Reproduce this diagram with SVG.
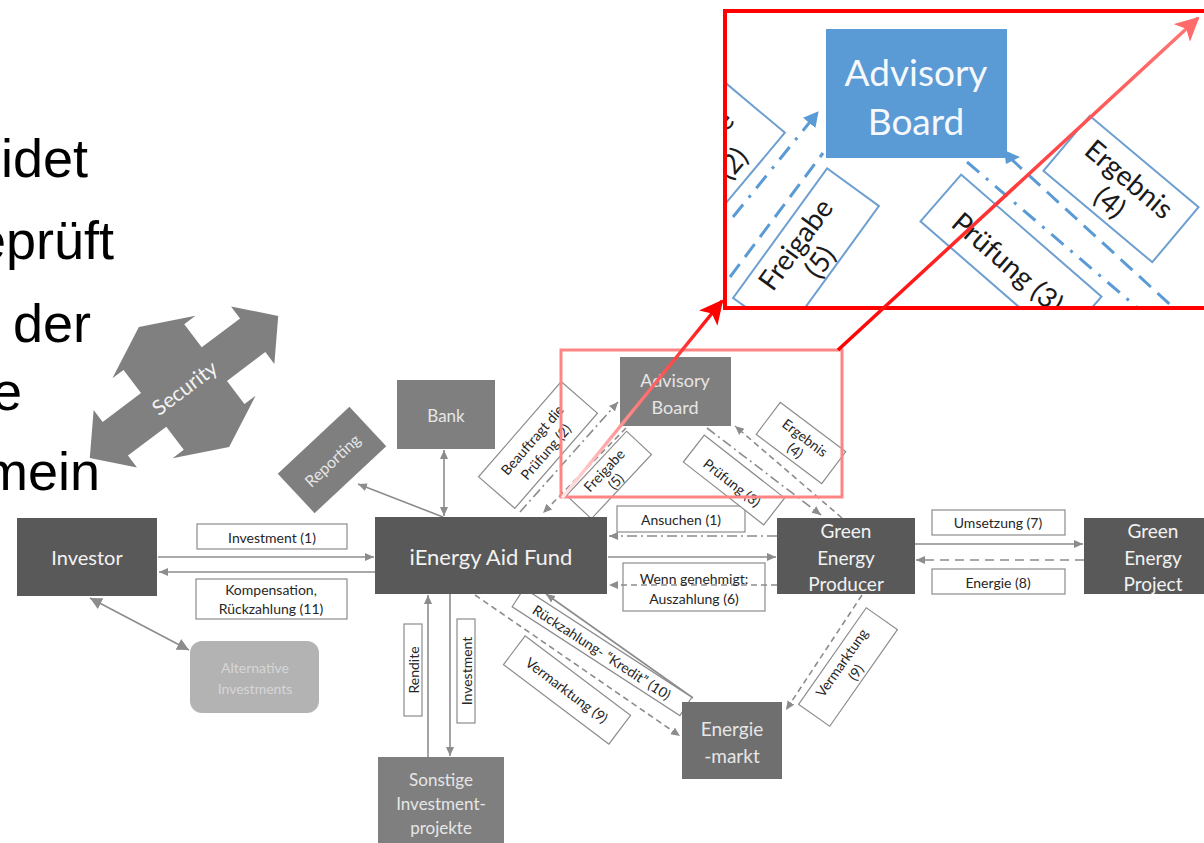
<svg xmlns="http://www.w3.org/2000/svg" width="1204" height="843" viewBox="0 0 1204 843">
<style>
.big{font-family:"Liberation Sans",Arial,sans-serif;font-size:54px;fill:#000}
.nd{fill:#595959}
.nm{fill:#7f7f7f}
.nt{font-family:Lato,"Open Sans",sans-serif;fill:#f2f2f2;text-anchor:middle;dominant-baseline:central}
.lb{fill:#fff;stroke:#8c8c8c;stroke-width:1.2}
.lt{font-family:Lato,"Open Sans",sans-serif;font-size:14px;fill:#262626;text-anchor:middle;dominant-baseline:central}
.c{stroke:#8c8c8c;stroke-width:1.6;fill:none}
.dd{stroke-dasharray:10 4 2 4}
.ds{stroke-dasharray:6 4}
.bl{fill:#fff;stroke:#6d9fd0;stroke-width:2}
.bt{font-family:Lato,"Open Sans",sans-serif;font-size:28px;fill:#1a1a1a;text-anchor:middle;dominant-baseline:central}
.bc{stroke:#5b9bd5;stroke-width:3;fill:none}
</style>
<defs>
<marker id="ga" markerUnits="userSpaceOnUse" markerWidth="10" markerHeight="10" refX="9" refY="5" orient="auto-start-reverse"><path d="M0,1 L9,5 L0,9 z" fill="#8c8c8c"/></marker>
<marker id="gb" markerUnits="userSpaceOnUse" markerWidth="14" markerHeight="14" refX="12" refY="7" orient="auto-start-reverse"><path d="M0,1 L12,7 L0,13 z" fill="#8c8c8c"/></marker>
<marker id="ba" markerUnits="userSpaceOnUse" markerWidth="18" markerHeight="18" refX="14" refY="9" orient="auto"><path d="M0,1 L15,9 L0,17 z" fill="#5b9bd5"/></marker>
<marker id="ra" markerUnits="userSpaceOnUse" markerWidth="26" markerHeight="26" refX="22" refY="12" orient="auto"><path d="M0,0 L24,12 L0,24 L6,12 z" fill="#ff0000"/></marker>
<marker id="rb" markerUnits="userSpaceOnUse" markerWidth="26" markerHeight="26" refX="22" refY="12" orient="auto"><path d="M0,0 L24,12 L0,24 L6,12 z" fill="#ff6a6a"/></marker>
<linearGradient id="g1" gradientUnits="userSpaceOnUse" x1="562" y1="498" x2="722" y2="300"><stop offset="0" stop-color="#ffe8e8"/><stop offset="0.45" stop-color="#ff8080"/><stop offset="1" stop-color="#ff0000"/></linearGradient>
<linearGradient id="g2" gradientUnits="userSpaceOnUse" x1="838" y1="350" x2="1200" y2="16"><stop offset="0" stop-color="#ff0000"/><stop offset="1" stop-color="#ff7a7a"/></linearGradient>
<clipPath id="cb"><rect x="727" y="13" width="477" height="294"/></clipPath>
</defs>
<rect width="1204" height="843" fill="#fff"/>

<g id="slide-text">
<text class="big" x="1" y="177">idet</text>
<text class="big" x="-24" y="259">eprüft</text>
<text class="big" x="13" y="342">der</text>
<text class="big" x="-8" y="410">e</text>
<text class="big" x="-17" y="490">mein</text>
</g>

<g id="security">
<polygon transform="translate(184,387) rotate(-37)" fill="#808080" points="118,0 86,-36 86,-21 38,-21 38,-50 52,-50 0,-75 -52,-50 -38,-50 -38,-21 -86,-21 -86,-36 -118,0 -86,36 -86,21 -38,21 -38,50 -52,50 0,75 52,50 38,50 38,21 86,21 86,36"/>
<text class="nt" font-size="21" transform="translate(184,387) rotate(-37)">Security</text>
</g>

<g id="connectors">
<line class="c" x1="158" y1="557" x2="374" y2="557" marker-end="url(#ga)"/>
<line class="c" x1="375" y1="572" x2="159" y2="572" marker-end="url(#ga)"/>
<line class="c" x1="90" y1="598" x2="189" y2="650" stroke-width="3" marker-start="url(#gb)" marker-end="url(#gb)"/>
<line class="c" x1="443" y1="517" x2="358" y2="484" marker-end="url(#ga)"/>
<line class="c" x1="444" y1="450" x2="444" y2="516" marker-start="url(#ga)" marker-end="url(#ga)"/>
<line class="c dd" x1="777" y1="536" x2="609" y2="536" marker-end="url(#ga)"/>
<line class="c" x1="608" y1="557" x2="776" y2="557" marker-end="url(#ga)"/>
<line class="c ds" x1="777" y1="585" x2="609" y2="585" marker-end="url(#ga)"/>
<line class="c" x1="915" y1="544" x2="1083" y2="544" marker-end="url(#ga)"/>
<line class="c" x1="1084" y1="560" x2="916" y2="560" stroke-width="2" stroke-dasharray="9 6" marker-end="url(#ga)"/>
<line class="c dd" x1="520" y1="512" x2="618" y2="402" marker-end="url(#ga)"/>
<line class="c ds" x1="626" y1="428" x2="543" y2="513" marker-end="url(#ga)"/>
<line class="c dd" x1="707" y1="428" x2="821" y2="515" marker-end="url(#ga)"/>
<line class="c ds" x1="842" y1="518" x2="735" y2="426" marker-end="url(#ga)"/>
<line class="c ds" x1="475" y1="595" x2="680" y2="736" marker-end="url(#ga)"/>
<line class="c" x1="693" y1="698" x2="546" y2="594" marker-end="url(#ga)"/>
<line class="c ds" x1="862" y1="595" x2="786" y2="710" marker-end="url(#ga)"/>
<line class="c" x1="428" y1="757" x2="428" y2="595" marker-end="url(#ga)"/>
<line class="c" x1="450" y1="594" x2="450" y2="756" marker-end="url(#ga)"/>
</g>

<g id="labels">
<rect class="lb" x="197" y="524" width="150" height="25"/><text class="lt" x="272" y="537">Investment (1)</text>
<rect class="lb" x="196" y="579" width="151" height="40"/><text class="lt" x="271" y="589">Kompensation,</text><text class="lt" x="271" y="608">Rückzahlung (11)</text>
<rect class="lb" x="617" y="506" width="128" height="26"/><text class="lt" x="681" y="519">Ansuchen (1)</text>
<rect class="lb" x="623" y="563" width="142" height="48" style="fill:none"/><text class="lt" x="694" y="578">Wenn genehmigt:</text><text class="lt" x="694" y="598">Auszahlung (6)</text>
<rect class="lb" x="932" y="510" width="133" height="25"/><text class="lt" x="998" y="522">Umsetzung (7)</text>
<rect class="lb" x="932" y="569" width="133" height="25"/><text class="lt" x="998" y="582">Energie (8)</text>
<g transform="translate(413,670) rotate(-90)"><rect class="lb" x="-46" y="-9" width="92" height="18"/><text class="lt" font-size="13">Rendite</text></g>
<g transform="translate(466,671) rotate(-90)"><rect class="lb" x="-52" y="-9" width="104" height="18"/><text class="lt" font-size="13">Investment</text></g>
<g transform="translate(538,445) rotate(-49)"><rect class="lb" x="-63" y="-24" width="126" height="48"/><text class="lt" font-size="13" y="-8">Beauftragt  die</text><text class="lt" font-size="13" y="10">Prüfung (2)</text></g>
<g transform="translate(609,475) rotate(-47)"><rect class="lb" x="-44" y="-17" width="88" height="34"/><text class="lt" font-size="13" y="-7">Freigabe</text><text class="lt" font-size="13" y="9">(5)</text></g>
<g transform="translate(734,480) rotate(38)"><rect class="lb" x="-51" y="-17" width="102" height="34"/><text class="lt" font-size="13" y="3">Prüfung (3)</text></g>
<g transform="translate(801,443) rotate(37)"><rect class="lb" x="-41" y="-20" width="82" height="40"/><text class="lt" font-size="13" y="-7">Ergebnis</text><text class="lt" font-size="13" y="9">(4)</text></g>
<g transform="translate(602,652) rotate(33)"><rect class="lb" x="-100" y="-11" width="200" height="22"/><text class="lt" font-size="13">Rückzahlung- “Kredit” (10)</text></g>
<g transform="translate(567,690) rotate(37)"><rect class="lb" x="-66" y="-18" width="132" height="36"/><text class="lt" font-size="13">Vermarktung (9)</text></g>
<g transform="translate(848,667) rotate(-55)"><rect class="lb" x="-59" y="-19" width="118" height="38"/><text class="lt" font-size="13" y="-8">Vermarktung</text><text class="lt" font-size="13" y="9">(9)</text></g>
</g>

<g id="investor"><rect class="nd" x="17" y="518" width="140" height="78"/><text class="nt" font-size="20" x="87" y="557">Investor</text></g>
<g id="fund"><rect class="nd" x="375" y="517" width="232" height="77"/><text class="nt" font-size="22" x="491" y="556">iEnergy Aid Fund</text></g>
<g id="producer"><rect class="nd" x="777" y="518" width="138" height="76"/><text class="nt" font-size="19" x="846" y="530">Green</text><text class="nt" font-size="19" x="846" y="557">Energy</text><text class="nt" font-size="19" x="846" y="583">Producer</text></g>
<g id="project"><rect class="nd" x="1084" y="518" width="120" height="76"/><text class="nt" font-size="19" x="1153" y="530">Green</text><text class="nt" font-size="19" x="1153" y="557">Energy</text><text class="nt" font-size="19" x="1153" y="583">Project</text></g>
<g id="bank"><rect class="nm" x="397" y="380" width="98" height="69"/><text class="nt" font-size="17" x="446" y="415" style="fill:#e6e6e6">Bank</text></g>
<g id="advisory"><rect class="nm" x="620" y="357" width="111" height="69"/><text class="nt" font-size="18" x="675" y="380" style="fill:#e6e6e6">Advisory</text><text class="nt" font-size="18" x="675" y="407" style="fill:#e6e6e6">Board</text></g>
<g id="reporting" transform="translate(332,460) rotate(-43)"><rect class="nm" x="-49" y="-27" width="98" height="54"/><text class="nt" font-size="16" style="fill:#e6e6e6">Reporting</text></g>
<g id="alternative"><rect x="190" y="641" width="129" height="72" rx="12" fill="#b3b3b3"/><text class="nt" font-size="14" x="255" y="667" style="fill:#d6d6d6">Alternative</text><text class="nt" font-size="14" x="255" y="688" style="fill:#d6d6d6">Investments</text></g>
<g id="sonstige"><rect class="nm" x="378" y="757" width="126" height="86"/><text class="nt" font-size="17" x="441" y="779" style="fill:#e6e6e6">Sonstige</text><text class="nt" font-size="17" x="441" y="803" style="fill:#e6e6e6">Investment-</text><text class="nt" font-size="17" x="441" y="827" style="fill:#e6e6e6">projekte</text></g>
<g id="energiemarkt"><rect x="682" y="702" width="100" height="77" fill="#6f6f6f"/><text class="nt" font-size="19" x="732" y="728" style="fill:#e6e6e6">Energie</text><text class="nt" font-size="19" x="732" y="755" style="fill:#e6e6e6">-markt</text></g>

<g id="highlight">
<rect x="561" y="350" width="281" height="147" fill="none" stroke="#ff8585" stroke-width="3"/>
</g>

<g id="zoom-box">
<rect x="725" y="11" width="483" height="297" fill="#fff"/>
<g clip-path="url(#cb)">
<g transform="translate(682,190) rotate(-50)"><rect class="bl" x="-110" y="-42" width="220" height="84"/><text class="bt" y="-14">Beauftragt die</text><text class="bt" y="20">Prüfung (2)</text></g>
<line class="bc" x1="733" y1="217" x2="818" y2="112" stroke-dasharray="16 9 3 9" marker-end="url(#ba)"/>
<line class="bc" x1="730" y1="277" x2="823" y2="153" stroke-dasharray="16 9"/>
<g transform="translate(806,252) rotate(-54)"><rect class="bl" x="-80" y="-32" width="160" height="64"/><text class="bt" y="-14">Freigabe</text><text class="bt" y="16">(5)</text></g>
<g transform="translate(1011,259) rotate(41)"><rect class="bl" x="-93" y="-31" width="186" height="62"/><text class="bt" y="4">Prüfung (3)</text></g>
<g transform="translate(1121,189) rotate(40)"><rect class="bl" x="-71" y="-36" width="142" height="72"/><text class="bt" y="-14">Ergebnis</text><text class="bt" y="16">(4)</text></g>
<line class="bc" x1="967" y1="162" x2="1140" y2="310" stroke-dasharray="16 9 3 9"/>
<line class="bc" x1="1010" y1="158" x2="1176" y2="310" stroke-dasharray="16 9"/>
<path d="M1004,150 L1020,157 L1006,164 z" fill="#5b9bd5"/>
<rect x="826" y="29" width="181" height="129" fill="#5b9bd5"/>
<text class="nt" font-size="37" x="916" y="71" style="fill:#f5f9fd">Advisory</text>
<text class="nt" font-size="37" x="916" y="120" style="fill:#f5f9fd">Board</text>
</g>
<rect x="725" y="11" width="483" height="297" fill="none" stroke="#ff0000" stroke-width="4"/>
</g>

<g id="red-arrows">
<line x1="562" y1="498" x2="722" y2="301" stroke="url(#g1)" stroke-width="3.5" marker-end="url(#ra)"/>
<line x1="838" y1="350" x2="1198" y2="18" stroke="url(#g2)" stroke-width="3.5" marker-end="url(#rb)"/>
</g>
</svg>
